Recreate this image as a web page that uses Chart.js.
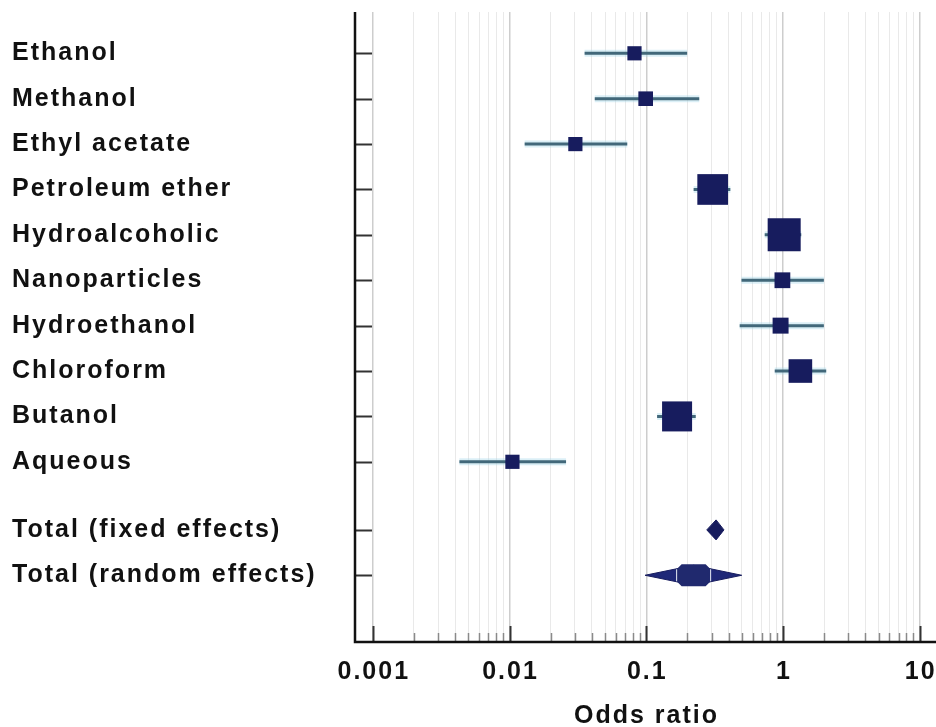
<!DOCTYPE html>
<html>
<head>
<meta charset="utf-8">
<script src="https://cdn.jsdelivr.net/npm/chart.js@4.4.1/dist/chart.umd.min.js"></script>
<style>
  html, body { margin: 0; padding: 0; background: #fff; overflow: hidden; }
  #forest { display: block; }
</style>
</head>
<body>
<canvas id="forest" width="936" height="727"></canvas>
<script>
const STUDIES = ['Ethanol', 'Methanol', 'Ethyl acetate', 'Petroleum ether', 'Hydroalcoholic',
  'Nanoparticles', 'Hydroethanol', 'Chloroform', 'Butanol', 'Aqueous'];
const STUDY_OR = [0.082, 0.099, 0.0303, 0.306, 1.02, 0.99, 0.96, 1.34, 0.168, 0.0105];
const STUDY_LOW = [0.0354, 0.042, 0.0129, 0.222, 0.735, 0.497, 0.482, 0.87, 0.12, 0.0043];
const STUDY_HIGH = [0.199, 0.244, 0.0726, 0.412, 1.36, 1.99, 1.99, 2.07, 0.23, 0.0259];
const STUDY_WEIGHT = [3.4, 3.6, 3.4, 15.9, 18.4, 4.2, 4.3, 9.4, 15.2, 3.4];

const POOLED = ['Total (fixed effects)', 'Total (random effects)'];
const POOLED_OR = [0.324, 0.222];
const POOLED_LOW = [0.277, 0.098];
const POOLED_HIGH = [0.37, 0.499];

const X_TICKS = [0.001, 0.01, 0.1, 1, 10];
const X_TITLE = 'Odds ratio';

const NAVY = '#171c5e';
const LABEL_FONT = '"Liberation Sans", Arial, sans-serif';

const studyRows = STUDIES.map((_, i) => i);
const pooledRows = POOLED.map((_, i) => STUDIES.length + 0.5 + i);
const allRows = [...studyRows, ...pooledRows];
const allLabels = [...STUDIES, ...POOLED];

function ciSegments() {
  const points = [];
  STUDIES.forEach((_, i) => {
    points.push({ x: STUDY_LOW[i], y: studyRows[i] });
    points.push({ x: STUDY_HIGH[i], y: studyRows[i] });
    points.push({ x: STUDY_HIGH[i], y: null });
  });
  return points;
}

function isMajor(value) {
  const lg = Math.log10(value);
  return Math.abs(lg - Math.round(lg)) < 1e-9;
}

function logTicks() {
  const ticks = [];
  for (let e = -3; e <= 1; e++) {
    for (let m = 1; m <= 9; m++) {
      const v = m * Math.pow(10, e);
      if (v > 10.0001) break;
      ticks.push({ value: v, major: m === 1 });
    }
  }
  return ticks;
}

function noPadding(scale) {
  scale.paddingTop = 0;
  scale.paddingBottom = 0;
  scale.paddingLeft = 0;
  scale.paddingRight = 0;
}

const forestPlugin = {
  id: 'forestExtras',
  beforeDraw(chart) {
    chart.ctx.letterSpacing = '2px';
  },
  afterDatasetsDraw(chart) {
    const { ctx, scales: { x, y } } = chart;
    ctx.save();
    POOLED.forEach((_, i) => {
      const lo = x.getPixelForValue(POOLED_LOW[i]);
      const hi = x.getPixelForValue(POOLED_HIGH[i]);
      const mid = x.getPixelForValue(POOLED_OR[i]);
      const yy = y.getPixelForValue(pooledRows[i]);
      const h = 10;
      ctx.beginPath();
      ctx.moveTo(lo, yy);
      ctx.lineTo(mid, yy - h);
      ctx.lineTo(hi, yy);
      ctx.lineTo(mid, yy + h);
      ctx.closePath();
      ctx.fillStyle = i === 0 ? NAVY : '#1f2878';
      ctx.fill();
      ctx.strokeStyle = NAVY;
      ctx.lineWidth = 1;
      ctx.stroke();
      if (i === 1) {
        // centre block of the random effects diamond
        const w = 17, bh = 11, c = 5;
        ctx.beginPath();
        ctx.moveTo(mid - w, yy - bh + c);
        ctx.lineTo(mid - w + c, yy - bh);
        ctx.lineTo(mid + w - c, yy - bh);
        ctx.lineTo(mid + w, yy - bh + c);
        ctx.lineTo(mid + w, yy + bh - c);
        ctx.lineTo(mid + w - c, yy + bh);
        ctx.lineTo(mid - w + c, yy + bh);
        ctx.lineTo(mid - w, yy + bh - c);
        ctx.closePath();
        ctx.fillStyle = '#20296e';
        ctx.fill();
        ctx.strokeStyle = '#e8ecf6';
        ctx.lineWidth = 1;
        ctx.beginPath();
        ctx.moveTo(mid - w, yy - bh + c);
        ctx.lineTo(mid - w, yy + bh - c);
        ctx.moveTo(mid + w, yy - bh + c);
        ctx.lineTo(mid + w, yy + bh - c);
        ctx.stroke();
      }
    });
    ctx.restore();
  },
  afterDraw(chart) {
    const { ctx, chartArea: area, scales: { x, y } } = chart;
    ctx.save();

    // small ticks along the bottom axis (inside the plot)
    x.ticks.forEach((t) => {
      const px = Math.round(x.getPixelForValue(t.value)) + 0.5;
      const major = isMajor(t.value);
      ctx.beginPath();
      ctx.moveTo(px, area.bottom);
      ctx.lineTo(px, area.bottom - (major ? 16 : 9));
      ctx.lineWidth = major ? 2 : 1.5;
      ctx.strokeStyle = major ? '#333' : '#8a8a8a';
      ctx.stroke();
    });

    // row ticks on the left axis
    allRows.forEach((r) => {
      const py = Math.round(y.getPixelForValue(r)) + 0.5;
      ctx.beginPath();
      ctx.moveTo(area.left, py);
      ctx.lineTo(area.left + 17, py);
      ctx.lineWidth = 2;
      ctx.strokeStyle = '#333';
      ctx.stroke();
    });

    // axis lines
    ctx.beginPath();
    ctx.moveTo(area.left, area.top);
    ctx.lineTo(area.left, area.bottom);
    ctx.lineTo(area.right, area.bottom);
    ctx.lineWidth = 2.5;
    ctx.strokeStyle = '#111';
    ctx.stroke();

    // x tick labels and title
    ctx.fillStyle = '#111';
    ctx.font = `bold 25px ${LABEL_FONT}`;
    ctx.letterSpacing = '2px';
    ctx.textAlign = 'center';
    ctx.textBaseline = 'middle';
    X_TICKS.forEach((v) => {
      ctx.fillText(String(v), x.getPixelForValue(v) + 1, area.bottom + 30);
    });
    ctx.fillText(X_TITLE, (area.left + area.right) / 2 + 1, area.bottom + 74);
    ctx.restore();
  }
};

new Chart(document.getElementById('forest'), {
  type: 'scatter',
  data: {
    datasets: [
      {
        type: 'scatter',
        label: 'Odds ratio',
        data: STUDY_OR.map((v, i) => ({ x: v, y: studyRows[i] })),
        pointStyle: 'rect',
        pointRadius: STUDY_WEIGHT.map((w) => (7.7 * Math.sqrt(w)) / Math.SQRT2),
        pointHoverRadius: STUDY_WEIGHT.map((w) => (7.7 * Math.sqrt(w)) / Math.SQRT2),
        backgroundColor: NAVY,
        borderColor: NAVY,
        borderWidth: 0,
        order: 0
      },
      {
        type: 'line',
        label: '95% CI',
        data: ciSegments(),
        borderColor: '#42687a',
        borderWidth: 3,
        pointRadius: 0,
        spanGaps: false,
        fill: false,
        order: 1
      },
      {
        type: 'line',
        label: 'CI halo',
        data: ciSegments(),
        borderColor: 'rgba(165, 215, 232, 0.4)',
        borderWidth: 7,
        pointRadius: 0,
        spanGaps: false,
        fill: false,
        order: 2
      }
    ]
  },
  options: {
    responsive: false,
    animation: false,
    devicePixelRatio: 1,
    layout: { autoPadding: false, padding: { left: 12, top: 12, right: 0, bottom: 0 } },
    plugins: {
      legend: { display: false },
      tooltip: { enabled: false }
    },
    scales: {
      x: {
        type: 'logarithmic',
        position: 'bottom',
        min: 0.000741,
        max: 13.15,
        afterBuildTicks: (scale) => { scale.ticks = logTicks(); },
        afterFit: (scale) => { scale.height = 85; noPadding(scale); },
        ticks: { display: false },
        border: { display: false },
        grid: {
          drawTicks: false,
          color: (ctx) => (ctx.tick && isMajor(ctx.tick.value) ? '#cdcdcd' : '#e9e9e9'),
          lineWidth: (ctx) => (ctx.tick && isMajor(ctx.tick.value) ? 1.5 : 1)
        }
      },
      y: {
        type: 'linear',
        reverse: true,
        min: -0.91,
        max: 12.97,
        afterBuildTicks: (scale) => { scale.ticks = allRows.map((v) => ({ value: v })); },
        afterFit: (scale) => { scale.width = 343; noPadding(scale); },
        border: { display: false },
        grid: { display: false, drawTicks: false },
        ticks: {
          crossAlign: 'far',
          padding: 0,
          color: '#111',
          font: { family: LABEL_FONT, size: 25, weight: 'bold' },
          callback: (value) => {
            const idx = allRows.indexOf(value);
            return idx >= 0 ? allLabels[idx] : '';
          }
        }
      }
    }
  },
  plugins: [forestPlugin]
});
</script>
</body>
</html>
